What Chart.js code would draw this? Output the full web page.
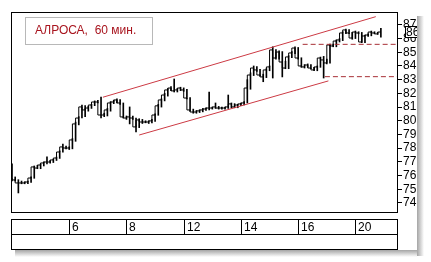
<!DOCTYPE html>
<html>
<head>
<meta charset="utf-8">
<script src="https://cdn.jsdelivr.net/npm/chart.js@4.4.0/dist/chart.umd.min.js"></script>
<style>
html, body { margin: 0; padding: 0; background: #fff; }
canvas { display: block; }
</style>
</head>
<body>
<canvas id="grafica" width="431" height="262"></canvas>
<script>
// Часовые бары АЛРОСА: закрытие, максимум, минимум
const closes = [75.82, 75.68, 75.46, 75.46, 75.46, 75.53, 75.82, 76.63, 76.55, 76.77,
  76.92, 76.99, 76.99, 77.14, 77.28, 77.72, 78.09, 78.01, 78.01, 78.60,
  79.77, 80.20, 81.01, 80.79, 80.93, 81.15, 81.37, 81.37, 80.42, 80.42,
  80.79, 81.30, 81.37, 81.52, 81.30, 80.28, 80.20, 80.28, 80.20, 79.55,
  80.06, 79.91, 79.91, 79.91, 79.99, 80.42, 81.09, 81.52, 81.88, 82.25,
  82.39, 82.18, 82.25, 82.39, 82.25, 81.66, 80.79, 80.64, 80.64, 80.72,
  80.79, 80.86, 80.93, 80.93, 81.01, 80.93, 80.93, 80.93, 81.01, 81.23,
  81.01, 81.15, 81.23, 81.30, 82.39, 83.34, 83.85, 83.71, 83.34, 83.20,
  83.71, 83.93, 85.17, 84.58, 85.02, 84.29, 83.85, 84.66, 84.95, 85.31,
  84.58, 84.00, 83.93, 84.07, 83.85, 83.71, 83.93, 84.58, 84.44, 84.22,
  85.53, 85.46, 85.82, 85.90, 86.41, 86.63, 86.41, 86.04, 86.48, 86.41,
  85.75, 86.19, 86.26, 86.48, 86.41, 86.34, 86.48];
const highs = [76.85, 75.90, 75.70, 75.60, 75.55, 75.60, 75.90, 76.70, 76.75, 76.85,
  77.00, 77.36, 77.10, 77.20, 77.35, 77.80, 78.30, 78.15, 78.10, 78.70,
  79.90, 80.30, 81.15, 81.10, 81.05, 81.20, 81.45, 81.50, 81.73, 80.55,
  80.90, 81.40, 81.50, 81.60, 81.55, 81.30, 80.35, 81.01, 80.35, 80.20,
  80.15, 80.10, 80.00, 80.00, 80.10, 80.50, 81.20, 81.60, 82.00, 82.35,
  82.50, 83.05, 82.35, 82.45, 82.40, 82.30, 81.70, 80.85, 80.75, 80.80,
  80.90, 80.95, 82.10, 81.00, 81.30, 81.05, 81.00, 81.00, 81.88, 81.30,
  81.25, 81.20, 81.30, 81.40, 83.00, 83.50, 84.00, 83.95, 83.75, 83.40,
  83.80, 84.00, 85.40, 85.20, 85.10, 85.05, 84.35, 84.75, 85.05, 85.40,
  85.35, 84.60, 84.10, 84.15, 84.10, 83.90, 84.00, 84.65, 84.70, 84.50,
  85.60, 85.60, 85.90, 86.00, 86.50, 86.70, 86.65, 86.45, 86.55, 86.50,
  86.45, 86.25, 86.35, 86.55, 86.50, 86.45, 86.75];
const lows = [75.60, 75.60, 74.73, 75.40, 75.40, 75.40, 75.50, 75.80, 76.50, 76.50,
  76.70, 76.85, 76.90, 76.95, 77.10, 77.25, 77.70, 77.95, 77.90, 77.95,
  78.50, 79.70, 80.20, 80.30, 80.70, 80.90, 81.10, 81.30, 80.20, 80.30,
  80.35, 80.70, 81.25, 81.30, 81.20, 80.20, 80.10, 79.77, 80.10, 79.18,
  79.50, 79.80, 79.85, 79.80, 79.85, 79.95, 80.40, 81.00, 81.45, 81.80,
  82.20, 82.10, 82.10, 82.20, 82.15, 81.60, 80.70, 80.55, 80.55, 80.60,
  80.65, 80.75, 80.80, 80.85, 80.90, 80.85, 80.85, 80.85, 80.90, 80.95,
  80.95, 80.95, 81.10, 81.15, 81.30, 82.30, 83.30, 83.60, 83.25, 82.85,
  83.15, 83.65, 83.12, 84.50, 84.50, 83.20, 83.80, 83.80, 84.60, 84.90,
  84.50, 83.90, 83.85, 83.90, 83.80, 83.65, 83.65, 83.90, 83.12, 84.15,
  84.20, 85.40, 85.40, 85.75, 85.85, 86.35, 86.35, 85.95, 86.00, 86.35,
  85.70, 85.70, 86.15, 86.20, 86.35, 86.30, 86.10];

// Начало дня (номер бара) и подписи дат
const dayStarts = [18, 36, 54, 72, 90, 108];
const dayLabels = ['6', '8', '12', '14', '16', '20'];
const yTicks = [74, 75, 76, 77, 78, 79, 80, 81, 82, 83, 84, 85, 86, 87];

// Канал и уровни: [бар, цена]
const upperChannel = [[28.6, 81.72], [114.4, 87.60]];
const lowerChannel = [[40.0, 78.96], [99.5, 82.91]];
const resistance = [[91.4, 85.58], [121.1, 85.58]];
const support = [[98.4, 83.22], [121.1, 83.22]];

const FONT = '"Liberation Sans", Arial, sans-serif';

function toPoints(pairs) {
  return pairs.map(p => ({ x: p[0], y: p[1] }));
}

// Рамка, полоса дат, цена последнего бара и заголовок
const marco = {
  id: 'marco',
  afterDraw(chart) {
    const { ctx, chartArea: a, scales: { x, y } } = chart;
    ctx.save();

    // последняя цена в рамке
    const yp = Math.round(y.getPixelForValue(closes[closes.length - 1]));
    ctx.fillStyle = '#fff';
    ctx.fillRect(405, yp - 5, 16, 11);
    ctx.strokeStyle = '#000';
    ctx.lineWidth = 1;
    ctx.strokeRect(405.5, yp - 5.5, 16, 11);
    ctx.fillStyle = '#000';
    ctx.font = '12px ' + FONT;
    ctx.textBaseline = 'middle';
    ctx.fillText(closes[closes.length - 1].toFixed(2), 406, yp + 0.5);

    // всё, что правее окна, закрыть
    ctx.fillStyle = '#fff';
    ctx.fillRect(417, 0, 14, 262);
    ctx.fillRect(0, 250, 431, 12);

    // тень окна
    let g = ctx.createLinearGradient(417, 0, 424, 0);
    g.addColorStop(0, 'rgba(90,90,90,0.55)');
    g.addColorStop(1, 'rgba(90,90,90,0)');
    ctx.fillStyle = g;
    ctx.fillRect(417, 16, 7, 240);
    g = ctx.createLinearGradient(0, 250, 0, 257);
    g.addColorStop(0, 'rgba(90,90,90,0.55)');
    g.addColorStop(1, 'rgba(90,90,90,0)');
    ctx.fillStyle = g;
    ctx.fillRect(15, 250, 402, 7);

    // рамка графика
    ctx.strokeStyle = '#000';
    ctx.lineWidth = 1;
    ctx.strokeRect(a.left + 0.5, a.top + 0.5, a.width, a.height);

    // полоса дат
    const l = a.left + 0.5, r = a.right + 0.5;
    ctx.beginPath();
    [219.5, 234.5, 249.5].forEach(yy => { ctx.moveTo(l, yy); ctx.lineTo(r, yy); });
    ctx.moveTo(l, 219); ctx.lineTo(l, 250);
    ctx.moveTo(r, 219); ctx.lineTo(r, 250);
    dayStarts.forEach(d => {
      const xp = Math.round(x.getPixelForValue(d)) + 0.5;
      ctx.moveTo(xp, 219); ctx.lineTo(xp, 234);
    });
    ctx.stroke();
    ctx.fillStyle = '#000';
    ctx.font = '12px ' + FONT;
    ctx.textBaseline = 'alphabetic';
    dayStarts.forEach((d, k) => {
      const xp = Math.round(x.getPixelForValue(d));
      ctx.fillText(dayLabels[k], xp + 3, 231);
    });

    // заголовок
    ctx.fillStyle = '#fff';
    ctx.fillRect(25, 17, 127, 27);
    ctx.strokeStyle = '#b8b8b8';
    ctx.strokeRect(25.5, 17.5, 127, 27);
    ctx.fillStyle = '#a8141e';
    ctx.font = '12px ' + FONT;
    ctx.fillText('АЛРОСА,  60 мин.', 35, 34);

    ctx.restore();
  }
};

function setupChart() {
  const ctx = document.getElementById('grafica').getContext('2d');
  new Chart(ctx, {
    type: 'line',
    data: {
      datasets: [{
        type: 'bar',
        data: closes.map((c, i) => ({ x: i, y: [lows[i], highs[i]] })),
        backgroundColor: '#000',
        barThickness: 1,
        grouped: false,
        order: 2
      }, {
        data: closes.map((c, i) => ({ x: i, y: c })),
        stepped: 'after',
        borderColor: '#000',
        borderWidth: 1,
        pointRadius: 0,
        order: 1
      }, {
        data: toPoints(upperChannel),
        borderColor: '#cc3a44',
        borderWidth: 1,
        pointRadius: 0
      }, {
        data: toPoints(lowerChannel),
        borderColor: '#cc3a44',
        borderWidth: 1,
        pointRadius: 0
      }, {
        data: toPoints(resistance),
        borderColor: '#a83036',
        borderWidth: 1,
        borderDash: [5, 3],
        pointRadius: 0
      }, {
        data: toPoints(support),
        borderColor: '#a83036',
        borderWidth: 1,
        borderDash: [5, 3],
        pointRadius: 0
      }]
    },
    options: {
      responsive: false,
      animation: false,
      events: [],
      layout: { padding: { left: 11, top: 12, right: 14, bottom: 50 } },
      plugins: { legend: { display: false }, tooltip: { enabled: false } },
      scales: {
        x: {
          type: 'linear',
          display: false,
          offset: false,
          min: -0.314,
          max: 121.07
        },
        y: {
          position: 'right',
          min: 73.34,
          max: 87.94,
          afterBuildTicks: s => { s.ticks = yTicks.map(v => ({ value: v })); },
          afterFit: s => { s.width = 20; },
          grid: { drawOnChartArea: false, tickLength: 5, color: '#000' },
          border: { color: '#000' },
          ticks: { padding: 1, color: '#000', autoSkip: false, font: { family: FONT, size: 12 } }
        }
      }
    },
    plugins: [marco]
  });
}

document.addEventListener('DOMContentLoaded', setupChart);
</script>
</body>
</html>
